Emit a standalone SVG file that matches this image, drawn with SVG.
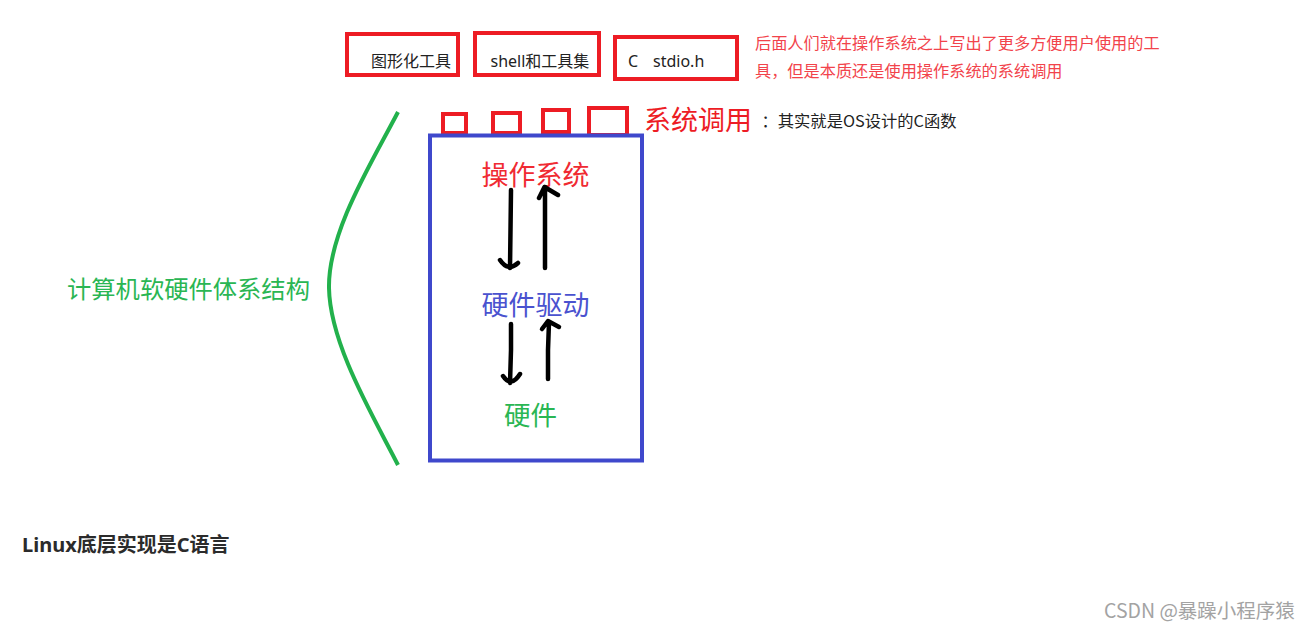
<svg xmlns="http://www.w3.org/2000/svg" width="1311" height="631" viewBox="0 0 1311 631">
<style>
text{font-family:"Noto Sans CJK SC","Liberation Sans",sans-serif}
.lat{font-family:"Noto Sans","Noto Sans CJK SC",sans-serif}
.r{fill:none;stroke:#ed1c24;stroke-width:4}
.a{fill:none;stroke:#000;stroke-width:4.500;stroke-linecap:round;stroke-linejoin:round}
.t{font-size:16px;fill:#222}
</style>
<rect width="1311" height="631" fill="#fff"/>
<g id="tool-gui"><rect class="r" x="347" y="34" width="111" height="41"/><text class="t" x="371" y="67">图形化工具</text></g>
<g id="tool-shell"><rect class="r" x="475" y="33" width="124" height="42"/><text class="t lat" x="490.500" y="67">shell和工具集</text></g>
<g id="tool-c"><rect class="r" x="615" y="37" width="122" height="42"/><text class="t lat" x="628" y="67">C<tspan x="653">stdio.h</tspan></text></g>
<g id="note-top" font-size="16.200" fill="#f2434b"><text x="755" y="49">后面人们就在操作系统之上写出了更多方便用户使用的工</text><text x="755" y="77">具，但是本质还是使用操作系统的系统调用</text></g>
<g id="syscall-boxes"><rect class="r" x="443" y="114" width="23" height="19"/><rect class="r" x="493" y="113" width="27" height="20"/><rect class="r" x="543" y="110" width="26" height="22"/><rect class="r" x="589" y="108" width="38" height="27"/></g>
<g id="syscall-label"><text x="644" y="130" font-size="27" fill="#ed1c24">系统调用</text></g>
<g id="syscall-note"><text x="761.500" y="127" font-size="16.300" fill="#222">：其实就是OS设计的C函数</text></g>
<g id="os-box"><rect x="430" y="135.500" width="212" height="325" fill="none" stroke="#3f48cc" stroke-width="4"/></g>
<g id="node-os"><text x="481.500" y="185" font-size="27" fill="#f02a32">操作系统</text></g>
<g id="node-driver"><text x="481.500" y="315" font-size="27" fill="#4a52cf">硬件驱动</text></g>
<g id="node-hw"><text x="504" y="425" font-size="26.500" fill="#2ab653">硬件</text></g>
<g id="connectors">
<path class="a" d="M511 190L510.500 230L510 268M500 260Q508 272 518 263"/>
<path class="a" d="M545 268V187M539 198L544.500 187L558 195"/>
<path class="a" d="M511 324V350L510 383M503 376Q511 388 520 374"/>
<path class="a" d="M548 379V350L549 322M542 329L548 321L559 327"/>
</g>
<g id="brace"><path d="M398 112C372 162 328 232 329 288C330 344 372 414 398 465" fill="none" stroke="#22b14c" stroke-width="4"/></g>
<g id="label-arch"><text x="67" y="298" font-size="24.300" fill="#2ab653">计算机软硬件体系结构</text></g>
<g id="caption"><text class="lat" x="22" y="552" font-size="20" font-weight="700" fill="#2b2b2b">Linux底层实现是C语言</text></g>
<g id="watermark"><text x="1104" y="618" font-size="19.500" fill="#a3a3a3">CSDN @暴躁小程序猿</text></g>
</svg>
